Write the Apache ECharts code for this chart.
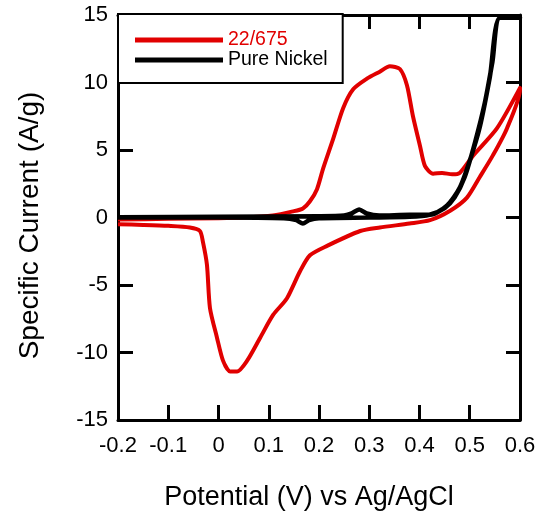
<!DOCTYPE html>
<html lang="en">

<head>
    <meta charset="UTF-8">
    <title>CV curves</title>
    <script src="https://cdn.jsdelivr.net/npm/echarts@6/dist/echarts.min.js"></script>
    <style>
        body,
        html {
            padding: 0;
            margin: 0;
            background: #fff;
        }

        #chart-panel {
            width: 540px;
            height: 516px;
        }
    </style>
</head>

<body>
    <div id="chart-panel"></div>
    <script>
        // 22/675 sample: forward (anodic) sweep, -0.2 -> 0.6 V
        var sampleForward = [
            [-0.2, -0.15], [-0.1, -0.1], [0.0, -0.05], [0.05, 0.0], [0.108, 0.15],
            [0.148, 0.45], [0.168, 0.67], [0.182, 1.2], [0.196, 2.1], [0.208, 3.6],
            [0.228, 5.8], [0.248, 8.1], [0.268, 9.5], [0.296, 10.3], [0.321, 10.8],
            [0.341, 11.2], [0.361, 11.0], [0.375, 9.8], [0.387, 7.5], [0.401, 5.3],
            [0.411, 3.8], [0.427, 3.25], [0.445, 3.3], [0.465, 3.2], [0.48, 3.3],
            [0.507, 4.6], [0.554, 6.6], [0.6, 9.6]
        ];
        // 22/675 sample: reverse (cathodic) sweep, 0.6 -> -0.2 V
        var sampleReverse = [
            [0.6, 9.5], [0.574, 6.6], [0.546, 4.6], [0.52, 3.0], [0.494, 1.45],
            [0.461, 0.5], [0.421, -0.2], [0.38, -0.45], [0.321, -0.74], [0.282, -1.0],
            [0.216, -2.1], [0.182, -2.8], [0.162, -4.0], [0.136, -6.0], [0.109, -7.2],
            [0.083, -8.9], [0.057, -10.6], [0.037, -11.4], [0.023, -11.4], [0.009, -10.6],
            [-0.003, -8.9], [-0.017, -6.7], [-0.023, -3.5], [-0.031, -1.8], [-0.037, -1.0],
            [-0.057, -0.74], [-0.1, -0.62], [-0.15, -0.55], [-0.2, -0.5]
        ];
        // Pure nickel
        var nickelForward = [
            [-0.2, 0.02], [0.0, 0.05], [0.2, 0.1], [0.25, 0.15], [0.265, 0.3],
            [0.28, 0.6], [0.295, 0.3], [0.32, 0.15], [0.38, 0.2], [0.421, 0.2],
            [0.455, 0.9], [0.48, 2.2], [0.5, 4.2], [0.52, 6.7], [0.54, 10.4],
            [0.56, 14.8], [0.6, 14.8]
        ];
        var nickelReverse = [
            [0.6, 14.8], [0.56, 14.8], [0.545, 11.5], [0.53, 8.5], [0.51, 5.5],
            [0.49, 3.0], [0.47, 1.5], [0.45, 0.7], [0.42, 0.2], [0.38, 0.05],
            [0.3, 0.0], [0.2, -0.05], [0.18, -0.2], [0.168, -0.45], [0.155, -0.2],
            [0.13, -0.05], [0.0, 0.0], [-0.2, 0.0]
        ];
        var seriesNames = ['22/675', 'Pure Nickel'];

        var font = 'Liberation Sans, Arial, sans-serif';
        var red = '#e10000';

        function mirrorAxis(pos) {
            return {
                type: 'value',
                position: pos,
                axisLine: { show: true, onZero: false, lineStyle: { color: '#000', width: 3 } },
                axisTick: { show: true, inside: true, length: 14, lineStyle: { color: '#000', width: 3 } },
                axisLabel: { show: false },
                splitLine: { show: false }
            };
        }

        var xTop = mirrorAxis('top');
        xTop.min = -0.2; xTop.max = 0.6; xTop.interval = 0.1;
        var yRight = mirrorAxis('right');
        yRight.min = -15; yRight.max = 15; yRight.interval = 5;

        var option = {
            backgroundColor: '#fff',
            animation: false,
            grid: { left: 118, right: 20, top: 15, bottom: 95 },
            legend: {
                left: 118,
                top: 14,
                orient: 'vertical',
                padding: [16, 15, 13, 17],
                itemGap: 0,
                itemWidth: 88,
                itemHeight: 5,
                icon: 'rect',
                borderColor: '#000',
                borderWidth: 2,
                backgroundColor: '#fff',
                textStyle: { fontFamily: font, fontSize: 19.5, color: '#000', lineHeight: 20 },
                data: [
                    { name: seriesNames[0], textStyle: { color: red } },
                    { name: seriesNames[1] }
                ]
            },
            xAxis: [{
                type: 'value',
                min: -0.2,
                max: 0.6,
                interval: 0.1,
                name: 'Potential (V) vs Ag/AgCl',
                nameLocation: 'middle',
                nameGap: 64,
                nameTextStyle: { fontFamily: font, fontSize: 27, color: '#000', padding: [0, 20, 0, 0] },
                axisLine: { show: true, onZero: false, lineStyle: { color: '#000', width: 3 } },
                axisTick: { show: true, inside: true, length: 15, lineStyle: { color: '#000', width: 3 } },
                axisLabel: { fontFamily: font, fontSize: 22, color: '#000', margin: 15 },
                splitLine: { show: false }
            }, xTop],
            yAxis: [{
                type: 'value',
                min: -15,
                max: 15,
                interval: 5,
                name: 'Specific Current (A/g)',
                nameLocation: 'middle',
                nameGap: 74,
                nameTextStyle: { fontFamily: font, fontSize: 28, color: '#000', padding: [0, 16, 0, 0] },
                axisLine: { show: true, onZero: false, lineStyle: { color: '#000', width: 3 } },
                axisTick: { show: true, inside: true, length: 15, lineStyle: { color: '#000', width: 3 } },
                axisLabel: { fontFamily: font, fontSize: 22, color: '#000', margin: 10 },
                splitLine: { show: false }
            }, yRight],
            series: [{
                name: seriesNames[0],
                type: 'line',
                showSymbol: false,
                smooth: 0.25,
                color: red,
                lineStyle: { color: red, width: 4, join: 'round' },
                data: sampleForward.concat(sampleReverse)
            }, {
                name: seriesNames[1],
                type: 'line',
                showSymbol: false,
                smooth: 0.25,
                color: '#000',
                lineStyle: { color: '#000', width: 4.5, join: 'round' },
                data: nickelForward.concat(nickelReverse)
            }]
        };

        var chartVM = echarts.init(document.getElementById('chart-panel'));
        chartVM.setOption(option);
    </script>
</body>

</html>
